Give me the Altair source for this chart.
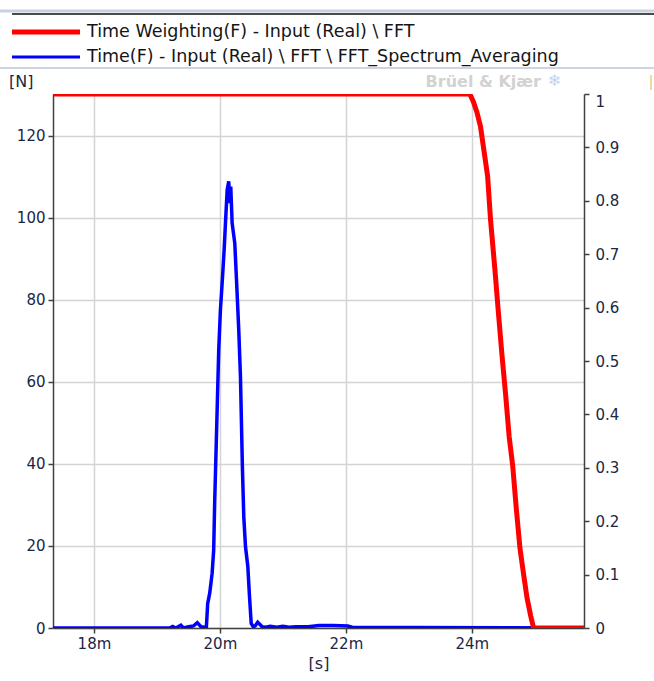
import altair as alt
import pandas as pd

# ---------------- data ----------------
blue_t = [17.35, 19.20, 19.25, 19.30, 19.38, 19.42, 19.50, 19.58, 19.64, 19.70, 19.76, 19.785,
          19.806, 19.838, 19.876, 19.901, 19.917, 19.939, 19.960, 19.981, 20.008, 20.035,
          20.067, 20.088, 20.115, 20.140, 20.156, 20.172, 20.194, 20.236, 20.263, 20.299,
          20.326, 20.342, 20.358, 20.379, 20.406, 20.443, 20.470, 20.497, 20.529, 20.56,
          20.60, 20.64, 20.67, 20.72, 20.80, 20.90, 21.00, 21.10, 21.20, 21.40, 21.57,
          21.80, 22.03, 22.10, 23.00, 25.78]
blue_v = [0, 0, 0.4, 0, 0.7, 0, 0.3, 0.5, 1.3, 0.3, 0.2, 0.3,
          6.0, 8.5, 13.3, 19.0, 30.8, 43.4, 55.6, 67.8, 77.6, 84.0,
          92.2, 98.7, 106.8, 108.9, 103.6, 107.6, 98.7, 93.8, 84.9, 72.7,
          61.3, 49.9, 38.5, 27.1, 19.8, 15.0, 7.6, 1.1, 0.3, 0.5,
          1.4, 0.8, 0.3, 0.2, 0.4, 0.2, 0.4, 0.2, 0.3, 0.3, 0.6,
          0.6, 0.5, 0.2, 0.1, 0]

red_t = [17.35, 23.967, 24.022, 24.080, 24.137, 24.194, 24.250, 24.296, 24.365, 24.420,
         24.478, 24.535, 24.592, 24.648, 24.705, 24.763, 24.818, 24.876, 24.933, 24.98, 25.78]
red_v = [1.0, 1.0, 0.986, 0.966, 0.939, 0.892, 0.846, 0.765, 0.672, 0.592,
         0.511, 0.438, 0.358, 0.304, 0.224, 0.150, 0.103, 0.056, 0.023, 0.0, 0.0]

x_ticks = [18, 20, 22, 24]
left_ticks = [0, 20, 40, 60, 80, 100, 120]
right_ticks = [0, 0.1, 0.2, 0.3, 0.4, 0.5, 0.6, 0.7, 0.8, 0.9, 1]

legend_labels = ["Time Weighting(F) - Input (Real) \\ FFT",
                 "Time(F) - Input (Real) \\ FFT \\ FFT_Spectrum_Averaging"]
legend_colors = ["#ff0000", "#0000ff"]
y_unit = "[N]"
x_unit = "[s]"
brand = "Brüel & Kjær"

# ---------------- layout ----------------
PADL, PADT = 53, 94
W, H = 531, 534
FONT = "DejaVu Sans"
LABEL_COLOR = "#1a2744"


def px(x):
    return x - PADL


def py(y):
    return y - PADT


blue_df = pd.DataFrame({"t": blue_t, "v": blue_v})
red_df = pd.DataFrame({"t": red_t, "v": red_v})

x_enc = alt.X(
    "t:Q",
    scale=alt.Scale(domain=[17.35, 25.78], nice=False, zero=False),
    axis=alt.Axis(values=x_ticks, labelExpr="datum.value + 'm'", title=x_unit,
                  grid=True, titleFontWeight="normal", titleFontSize=16,
                  titleColor=LABEL_COLOR, titlePadding=4, labelPadding=3),
)

blue = alt.Chart(blue_df).mark_line(color="#0000ff", strokeWidth=3.5, clip=True).encode(
    x=x_enc,
    y=alt.Y("v:Q", scale=alt.Scale(domain=[0, 130.2], nice=False),
            axis=alt.Axis(values=left_ticks, title=None, orient="left", grid=True,
                          labelPadding=3)),
)

red = alt.Chart(red_df).mark_line(color="#ff0000", strokeWidth=5, clip=True).encode(
    x=x_enc,
    y=alt.Y("v:Q", scale=alt.Scale(domain=[0, 1], nice=False),
            axis=alt.Axis(values=right_ticks, title=None, orient="right", grid=False,
                          labelPadding=6, format="~g",
                          labelBaseline={"condition": {"test": "datum.value == 1", "value": "top"},
                                         "value": "middle"})),
)

plot = alt.layer(blue, red).resolve_scale(y="independent")

# ---------------- decorations (legend, header, units) ----------------
deco = []
deco.append(alt.Chart(pd.DataFrame({"a": [0]})).mark_rule(color="#c9d2de", strokeWidth=3).encode(
    x=alt.value(px(0)), x2=alt.value(px(654)), y=alt.value(py(11))))
deco.append(alt.Chart(pd.DataFrame({"a": [0]})).mark_rule(color="#4a4a4a", strokeWidth=2).encode(
    x=alt.value(px(12)), x2=alt.value(px(654)), y=alt.value(py(14))))
deco.append(alt.Chart(pd.DataFrame({"a": [0]})).mark_rule(color="#bcc6d4", strokeWidth=1.5).encode(
    x=alt.value(px(0)), x2=alt.value(px(654)), y=alt.value(py(68))))

legend_y = [32, 57]
legend_w = [5, 3]
for lab, col, ly, lw in zip(legend_labels, legend_colors, legend_y, legend_w):
    deco.append(alt.Chart(pd.DataFrame({"a": [0]})).mark_rule(color=col, strokeWidth=lw).encode(
        x=alt.value(px(12)), x2=alt.value(px(80)), y=alt.value(py(ly))))
    deco.append(alt.Chart(pd.DataFrame({"label": [lab]})).mark_text(
        align="left", baseline="middle", font=FONT, fontSize=17.5, color="#151515").encode(
        x=alt.value(px(87)), y=alt.value(py(ly)), text="label:N"))

deco.append(alt.Chart(pd.DataFrame({"label": [y_unit]})).mark_text(
    align="left", baseline="middle", font=FONT, fontSize=16, color=LABEL_COLOR).encode(
    x=alt.value(px(9)), y=alt.value(py(82)), text="label:N"))
deco.append(alt.Chart(pd.DataFrame({"label": [brand]})).mark_text(
    align="right", baseline="middle", font=FONT, fontSize=16, fontWeight="bold",
    color="#d2d2d2").encode(
    x=alt.value(px(541)), y=alt.value(py(82)), text="label:N"))
deco.append(alt.Chart(pd.DataFrame({"label": ["❄"]})).mark_text(
    align="left", baseline="middle", font=FONT, fontSize=16, color="#bcd4f0").encode(
    x=alt.value(px(548)), y=alt.value(py(81)), text="label:N"))
deco.append(alt.Chart(pd.DataFrame({"a": [0]})).mark_rule(color="#e2cf7a", strokeWidth=1.5).encode(
    x=alt.value(px(651)), y=alt.value(py(75)), y2=alt.value(py(90))))

chart = alt.layer(plot, *deco).properties(
    width=W, height=H,
    padding={"left": PADL, "top": PADT, "right": 654 - PADL - W, "bottom": 681 - PADT - H},
    autosize=alt.AutoSizeParams(type="none"),
    background="white",
).configure_view(stroke=None).configure_axis(
    labelFont=FONT, labelFontSize=15, labelColor=LABEL_COLOR,
    titleFont=FONT, domainColor="#404040", domainWidth=1.5,
    tickColor="#404040", tickSize=5, tickWidth=1.5,
    gridColor="#d4d4d4", gridWidth=1.5,
)

chart.save("out.html", embed_options={"renderer": "svg", "actions": False})
